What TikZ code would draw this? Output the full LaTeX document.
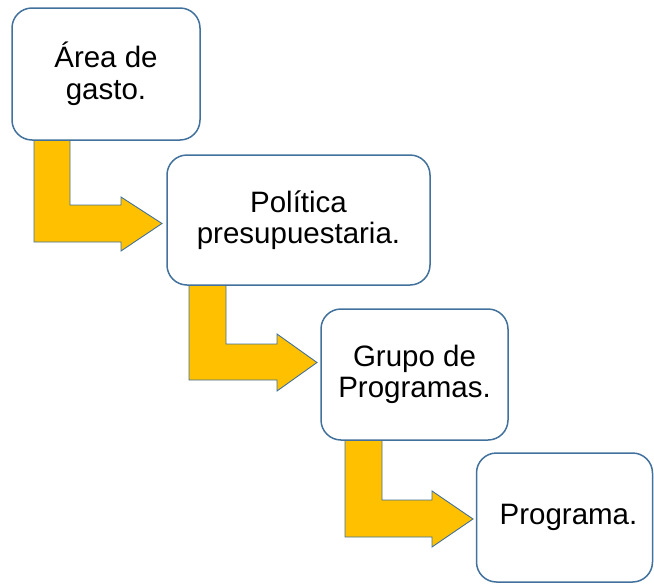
\documentclass[tikz,border=0pt]{standalone}
\usepackage{fontspec}
\setmainfont{Liberation Sans}
\definecolor{boxline}{HTML}{41719C}
\definecolor{arrowfill}{HTML}{FFC000}
\begin{document}
\begin{tikzpicture}[x=1pt,y=-1pt,
  box/.style={draw=boxline, line width=1.5pt, fill=white, rounded corners=20pt,
    align=center, inner sep=0pt, font=\fontsize{29.5}{31.5}\selectfont},
  bent/.style={draw=boxline, line width=0.9pt, fill=arrowfill, line join=miter}]
\useasboundingbox (0,0) rectangle (654,584);
% arrows
\draw[bent] (34,140) -- (70,140) -- (70,205) -- (121,205) -- (121,197) -- (162,223.5) -- (121,251) -- (121,242) -- (34,242) -- cycle;
\draw[bent] (189,285) -- (226,285) -- (226,344) -- (277,344) -- (277,334) -- (317,362.5) -- (277,391) -- (277,380) -- (189,380) -- cycle;
\draw[bent] (345,440) -- (382,440) -- (382,500) -- (432,500) -- (432,491) -- (473,519) -- (432,547) -- (432,537) -- (345,537) -- cycle;
% boxes
\node[box, minimum width=188pt, minimum height=132pt] (b1) at (106,74) {Área de\\gasto.};
\node[box, minimum width=263pt, minimum height=130pt] (b2) at (298.5,220) {Política\\presupuestaria.};
\node[box, minimum width=187pt, minimum height=131pt] (b3) at (414.5,374.5) {Grupo de\\Programas.};
\node[box, minimum width=176pt, minimum height=129pt] (b4) at (564.5,517.5) {\hspace*{8pt}Programa.};
\end{tikzpicture}
\end{document}
